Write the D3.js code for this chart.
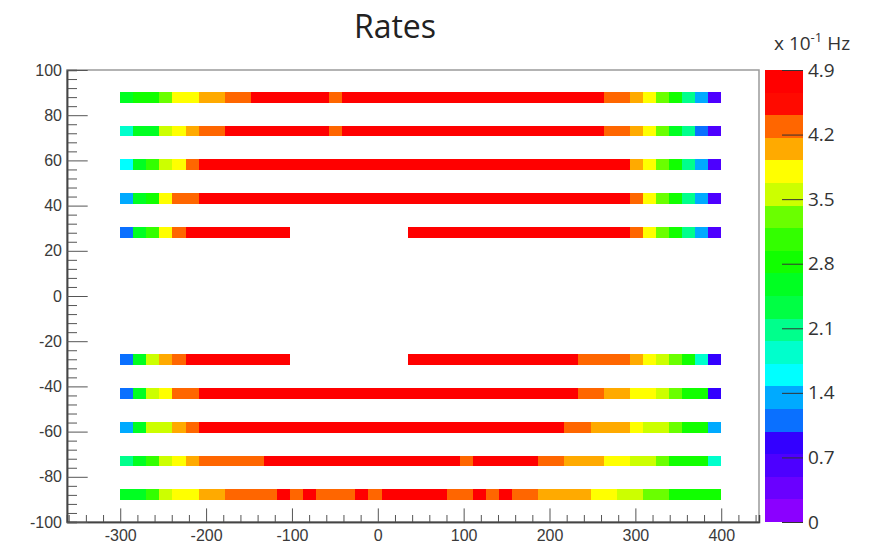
<!DOCTYPE html>
<html>
<head>
<meta charset="utf-8">
<script src="https://cdn.jsdelivr.net/npm/d3@7"></script>
<style>
body { margin: 0; background: #fff; }
</style>
</head>
<body>
<div id="chart"></div>
<script>
var width = 877,
    height = 544;

var frame = {left: 67, right: 759, top: 70, bottom: 522};

var xLimits = [-362, 444];
var yLimits = [-100, 100];
var zMax = 4.9;

// strips are binned along x
var binStart = -300, binEnd = 400, binCount = 46;
var stripY = [88, 73, 58, 43, 28, -28, -43, -58, -73, -88];
var stripHalf = 2.4;

// rates per bin, x 10^-1 Hz (null = no data)
var row88 = [2.55, 2.8, 2.8, 3.3, 3.8, 3.8, 4.05, 4.05, 4.3, 4.3,
  4.8, 4.8, 4.8, 4.8, 4.8, 4.8, 4.3, 4.8, 4.8, 4.8, 4.8, 4.8, 4.8, 4.8, 4.8, 4.8,
  4.8, 4.8, 4.8, 4.8, 4.8, 4.8, 4.8, 4.8, 4.8, 4.8, 4.8, 4.3, 4.3,
  4.05, 3.8, 3.3, 2.8, 2.1, 1.35, 0.6];
var row73 = [1.85, 2.55, 2.55, 3.55, 3.8, 4.05, 4.3, 4.3,
  4.8, 4.8, 4.8, 4.8, 4.8, 4.8, 4.8, 4.8, 4.3, 4.8, 4.8, 4.8, 4.8, 4.8, 4.8, 4.8, 4.8, 4.8,
  4.8, 4.8, 4.8, 4.8, 4.8, 4.8, 4.8, 4.8, 4.8, 4.8, 4.8, 4.3, 4.3,
  4.05, 3.8, 3.3, 2.55, 2.1, 1.1, 0.6];
var row58 = [1.6, 2.55, 3.05, 3.55, 3.8, 4.3,
  4.8, 4.8, 4.8, 4.8, 4.8, 4.8, 4.8, 4.8, 4.8, 4.8, 4.8, 4.8, 4.8, 4.8, 4.8, 4.8, 4.8,
  4.8, 4.8, 4.8, 4.8, 4.8, 4.8, 4.8, 4.8, 4.8, 4.8, 4.8, 4.8, 4.8, 4.8, 4.8, 4.8,
  4.05, 3.8, 3.3, 2.8, 2.1, 1.35, 0.6];
var row43 = [1.35, 2.55, 2.8, 3.8, 4.3, 4.3,
  4.8, 4.8, 4.8, 4.8, 4.8, 4.8, 4.8, 4.8, 4.8, 4.8, 4.8, 4.8, 4.8, 4.8, 4.8, 4.8, 4.8,
  4.8, 4.8, 4.8, 4.8, 4.8, 4.8, 4.8, 4.8, 4.8, 4.8, 4.8, 4.8, 4.8, 4.8, 4.8, 4.8,
  4.3, 3.8, 3.3, 2.8, 2.1, 1.35, 0.6];
var row28 = [1.1, 2.55, 3.05, 3.8, 4.3,
  4.8, 4.8, 4.8, 4.8, 4.8, 4.8, 4.8, 4.8,
  null, null, null, null, null, null, null, null, null,
  4.8, 4.8, 4.8, 4.8, 4.8, 4.8, 4.8, 4.8, 4.8, 4.8, 4.8, 4.8, 4.8, 4.8, 4.8, 4.8, 4.8,
  4.3, 3.8, 3.3, 2.8, 2.1, 1.35, 0.6];
var rowM28 = [1.1, 2.55, 3.55, 4.05, 4.3,
  4.8, 4.8, 4.8, 4.8, 4.8, 4.8, 4.8, 4.8,
  null, null, null, null, null, null, null, null, null,
  4.8, 4.8, 4.8, 4.8, 4.8, 4.8, 4.8, 4.8, 4.8, 4.8, 4.8, 4.8, 4.8,
  4.3, 4.3, 4.3, 4.3, 4.05, 3.8, 3.55, 3.3, 2.8, 1.85, 0.85];
var rowM43 = [1.1, 2.55, 3.55, 3.8, 4.3, 4.3,
  4.8, 4.8, 4.8, 4.8, 4.8, 4.8, 4.8, 4.8, 4.8, 4.8, 4.8, 4.8, 4.8, 4.8, 4.8,
  4.8, 4.8, 4.8, 4.8, 4.8, 4.8, 4.8, 4.8, 4.8, 4.8, 4.8, 4.8, 4.8, 4.8,
  4.3, 4.3, 4.05, 4.05, 3.8, 3.8, 3.55, 3.3, 2.8, 2.8, 0.85];
var rowM58 = [1.35, 2.55, 3.55, 3.55, 4.05, 4.3,
  4.8, 4.8, 4.8, 4.8, 4.8, 4.8, 4.8, 4.8, 4.8, 4.8, 4.8, 4.8, 4.8, 4.8,
  4.8, 4.8, 4.8, 4.8, 4.8, 4.8, 4.8, 4.8, 4.8, 4.8, 4.8, 4.8, 4.8, 4.8,
  4.3, 4.3, 4.05, 4.05, 4.05, 3.8, 3.55, 3.55, 3.3, 2.8, 2.8, 1.35];
var rowM73 = [2.1, 2.55, 3.05, 3.55, 3.8, 4.05,
  4.3, 4.3, 4.3, 4.3, 4.3,
  4.8, 4.8, 4.8, 4.8, 4.8, 4.8, 4.8, 4.8, 4.8, 4.8, 4.8, 4.8, 4.8, 4.8, 4.8,
  4.3, 4.8, 4.8, 4.8, 4.8, 4.8, 4.3, 4.3,
  4.05, 4.05, 4.05, 3.8, 3.8, 3.55, 3.55, 3.3, 2.8, 2.8, 2.8, 1.85];
var rowM88 = [2.55, 2.55, 3.05, 3.55, 3.8, 3.8, 4.05, 4.05,
  4.3, 4.3, 4.3, 4.3, 4.8, 4.3, 4.8, 4.3, 4.3, 4.3, 4.8, 4.3,
  4.8, 4.8, 4.8, 4.8, 4.8, 4.3, 4.3, 4.8, 4.3, 4.8, 4.3, 4.3,
  4.05, 4.05, 4.05, 4.05, 3.8, 3.8, 3.55, 3.55, 3.3, 3.3, 2.8, 2.8, 2.8, 2.8];

var rows = [row88, row73, row58, row43, row28, rowM28, rowM43, rowM58, rowM73, rowM88];

var xTicks = [-300, -200, -100, 0, 100, 200, 300, 400];
var yTicks = [-100, -80, -60, -40, -20, 0, 20, 40, 60, 80, 100];
var zTicks = [0, 0.7, 1.4, 2.1, 2.8, 3.5, 4.2, 4.9];

// 20 contour colours, bottom to top of the palette
var palette = ["#8b00ff", "#6a00ff", "#4d00ff", "#3300ff", "#0a70ff",
               "#00aaff", "#00ffff", "#00ffcc", "#00ff8c", "#00ff44",
               "#00ff22", "#11ff00", "#33ff00", "#6aff00", "#ccff00",
               "#ffff00", "#ffaa00", "#ff6600", "#ff0a00", "#ff0000"];


var svg = d3.select("#chart")
    .append("svg")
    .attr("width", width)
    .attr("height", height)
    .style("font-family", "'Liberation Sans', Arial, sans-serif");

var x = d3.scaleLinear().domain(xLimits).range([frame.left, frame.right]);
var y = d3.scaleLinear().domain(yLimits).range([frame.bottom, frame.top]);
var z = d3.scaleLinear().domain([0, zMax]).range([frame.bottom, frame.top]);
var color = d3.scaleQuantize().domain([0, zMax]).range(palette);

var binW = (binEnd - binStart) / binCount;

// flatten rows into cells
var cells = [];
rows.forEach(function (row, r) {
    row.forEach(function (v, i) {
        if (v === null) return;
        cells.push({x0: binStart + i * binW, x1: binStart + (i + 1) * binW, y: stripY[r], v: v});
    });
});

// frame
svg.append("rect")
    .attr("x", frame.left)
    .attr("y", frame.top)
    .attr("width", frame.right - frame.left)
    .attr("height", frame.bottom - frame.top)
    .attr("fill", "none")
    .attr("stroke", "#9a9a9a")
    .attr("stroke-width", 1.5);

svg.append("g")
    .attr("shape-rendering", "crispEdges")
    .selectAll("rect")
    .data(cells)
    .enter()
    .append("rect")
    .attr("x", function (d) { return x(d.x0); })
    .attr("width", function (d) { return x(d.x1) - x(d.x0); })
    .attr("y", function (d) { return y(d.y + stripHalf); })
    .attr("height", function (d) { return y(d.y - stripHalf) - y(d.y + stripHalf); })
    .attr("fill", function (d) { return color(d.v); });

// minor ticks
var xMinor = d3.range(-360, 441, 20).filter(function (v) { return v % 100 !== 0; });
var yMinor = d3.range(-100, 101, 4).filter(function (v) { return v % 20 !== 0; });

var xMinorAxis = svg.append("g")
    .attr("transform", "translate(0," + frame.bottom + ")")
    .call(d3.axisBottom(x).tickValues(xMinor).tickSize(-7).tickFormat(""));
var yMinorAxis = svg.append("g")
    .attr("transform", "translate(" + frame.left + ",0)")
    .call(d3.axisLeft(y).tickValues(yMinor).tickSize(-10).tickFormat(""));

var xAxis = svg.append("g")
    .attr("transform", "translate(0," + frame.bottom + ")")
    .call(d3.axisBottom(x).tickValues(xTicks).tickSize(-13.6).tickSizeOuter(0).tickPadding(8)
        .tickFormat(function (d) { return String(d); }));
var yAxis = svg.append("g")
    .attr("transform", "translate(" + frame.left + ",0)")
    .call(d3.axisLeft(y).tickValues(yTicks).tickSize(-20.7).tickSizeOuter(0).tickPadding(5)
        .tickFormat(function (d) { return String(d); }));

[xMinorAxis, yMinorAxis, xAxis, yAxis].forEach(function (g) {
    g.selectAll(".domain").attr("stroke", "#444").attr("stroke-width", 1.5);
    g.selectAll(".tick line").attr("stroke", "#555");
    g.selectAll("text")
        .attr("fill", "#3a3a3a")
        .style("font-size", "16px")
        .style("font-family", "'Liberation Sans', Arial, sans-serif");
});

// colour bar
var bar = {left: 765, right: 803};
var bandH = zMax / palette.length;

svg.append("g")
    .attr("shape-rendering", "crispEdges")
    .selectAll("rect")
    .data(palette)
    .enter()
    .append("rect")
    .attr("x", bar.left)
    .attr("width", bar.right - bar.left)
    .attr("y", function (d, k) { return z((k + 1) * bandH); })
    .attr("height", function (d, k) { return z(k * bandH) - z((k + 1) * bandH); })
    .attr("fill", function (d) { return d; });

var zAxis = svg.append("g")
    .attr("transform", "translate(" + bar.right + ",0)")
    .call(d3.axisRight(z).tickValues(zTicks).tickSize(-21).tickSizeOuter(0).tickPadding(5)
        .tickFormat(function (d) { return d === 0 ? "0" : d.toFixed(1); }));
zAxis.select(".domain").remove();
zAxis.selectAll(".tick line").attr("stroke", "#333");
zAxis.selectAll("text")
    .attr("fill", "#333")
    .style("font-size", "19px")
    .style("font-family", "'Open Sans', sans-serif");

// unit label
var unit = svg.append("text")
    .attr("x", 774)
    .attr("y", 50)
    .attr("fill", "#333")
    .style("font-size", "19px")
    .style("font-family", "'Open Sans', sans-serif");
unit.append("tspan").text("x 10");
unit.append("tspan").attr("dy", -8).style("font-size", "13px").text("-1");
unit.append("tspan").attr("dy", 8).text(" Hz");

// title
svg.append("text")
    .attr("x", 395)
    .attr("y", 38)
    .attr("text-anchor", "middle")
    .attr("fill", "#222")
    .style("font-size", "32px")
    .style("font-family", "'Open Sans', sans-serif")
    .text("Rates");
</script>
</body>
</html>
